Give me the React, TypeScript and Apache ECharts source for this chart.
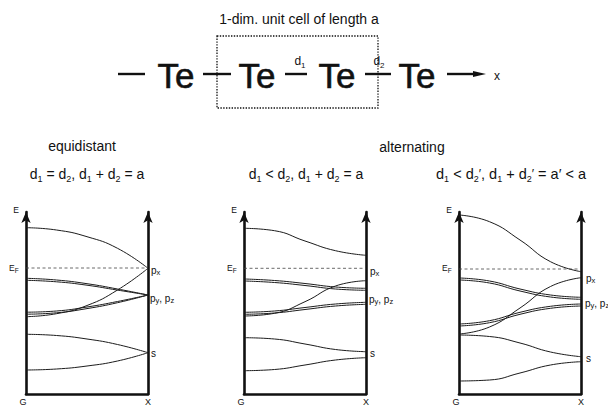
import React, { useEffect, useRef } from "react";
import * as echarts from "echarts";

// Fraction of the path from the zone centre G to the zone edge X
const kPath = [0, 0.25, 0.5, 0.75, 1];

// Energies (arbitrary units) — equidistant chain, d1 = d2
const eqTop = [166.3, 164, 157.3, 145.7, 125.7];
const eqPxLow = [77.3, 80.3, 88.5, 104, 125.7];
const eqPyzUpA = [115.7, 114, 110.3, 105, 99];
const eqPyzUpB = [113.7, 112.2, 108.8, 103.9, 99];
const eqPyzLowA = [81.8, 83, 87, 92.5, 99];
const eqPyzLowB = [79.8, 81.2, 85.4, 91.3, 99];
const eqSUp = [59.7, 58.5, 55, 49.5, 41.3];
const eqSLow = [24, 25, 28, 33, 41.3];
const eqFermi = 126;

// Alternating chain, d1 < d2, same cell length a
const alTop = [165.7, 163.3, 153, 143.3, 138.7];
const alPxLow = [78, 80.7, 92.3, 108, 113.3];
const alPyzUpA = [115, 113.5, 110.5, 107, 105.7];
const alPyzUpB = [113, 111.5, 108.5, 105, 103.7];
const alPyzLowA = [81.7, 83, 86.5, 90, 91.7];
const alPyzLowB = [79.7, 81, 84.5, 88, 89.7];
const alSUp = [56.3, 55, 50, 44.5, 42.3];
const alSLow = [23.3, 24.5, 29, 34, 36.3];
const alFermi = 125.7;

// Alternating chain with shortened cell a' < a
const shTop = [179, 172.3, 154, 132.3, 122.3];
const shPxLow = [60, 67, 86, 107.5, 116.3];
const shPyzUpA = [116, 113, 105, 99, 96.7];
const shPyzUpB = [114, 111, 103, 97, 94.7];
const shPyzLowA = [70, 73.3, 81.7, 87.7, 90];
const shPyzLowB = [68, 71.3, 79.7, 85.7, 88];
const shSUp = [59, 57.5, 51, 42, 37.3];
const shSLow = [13, 14, 21, 29, 32.3];
const shFermi = 125;

const bandSets = [
  [eqTop, eqPxLow, eqPyzUpA, eqPyzUpB, eqPyzLowA, eqPyzLowB, eqSUp, eqSLow],
  [alTop, alPxLow, alPyzUpA, alPyzUpB, alPyzLowA, alPyzLowB, alSUp, alSLow],
  [shTop, shPxLow, shPyzUpA, shPyzUpB, shPyzLowA, shPyzLowB, shSUp, shSLow],
];
const fermiLevels = [eqFermi, alFermi, shFermi];
const energyMax = 182;

// Layout of the three band-structure frames
const frameLeft = [26, 244, 459];
const frameWidth = 122;
const frameTop = 212;
const frameHeight = 182;

const INK = "#111";
const FONT = '"Liberation Sans", Arial, Helvetica, sans-serif';

function richStyles(size: number, sub: number) {
  return {
    m: { fontSize: size, fontFamily: FONT, fill: INK, lineHeight: Math.round(size * 1.3) },
    s: { fontSize: sub, fontFamily: FONT, fill: INK, verticalAlign: "bottom" },
    p: { fontSize: size - 2, fontFamily: FONT, fill: INK, verticalAlign: "middle" },
  };
}

function label(x: number, y: number, text: string, size: number, sub: number, align = "left") {
  return {
    type: "text",
    x,
    y,
    silent: true,
    style: {
      text,
      rich: richStyles(size, sub),
      align,
      textAlign: align,
      verticalAlign: "middle",
      textVerticalAlign: "middle",
      fill: INK,
    },
  };
}

function plain(x: number, y: number, text: string, size: number, align = "center") {
  return {
    type: "text",
    x,
    y,
    silent: true,
    style: {
      text,
      fontSize: size,
      fontFamily: FONT,
      fill: INK,
      align,
      textAlign: align,
      verticalAlign: "middle",
      textVerticalAlign: "middle",
    },
  };
}

function bond(x1: number, x2: number, y: number) {
  return {
    type: "line",
    silent: true,
    shape: { x1, y1: y, x2, y2: y },
    style: { stroke: INK, lineWidth: 2.4 },
  };
}

// Right-hand orbital labels per frame: [x, y of px, y of py/pz, y of s]
const orbitalLabelPos = [
  [151, 270, 298, 353],
  [370, 271, 299, 353],
  [586, 278, 303, 358],
];

function buildGraphic() {
  const g: any[] = [];
  // chain sketch
  g.push(plain(299, 19, "1-dim. unit cell of length a", 14));
  g.push({
    type: "rect",
    silent: true,
    shape: { x: 217, y: 36, width: 161, height: 72 },
    style: { fill: "none", stroke: INK, lineWidth: 1.3, lineDash: [1.4, 1.4] },
  });
  g.push(bond(118, 145, 74));
  g.push(bond(203, 231, 74));
  g.push(bond(285, 307, 74));
  g.push(bond(365, 391, 74));
  g.push(bond(447, 475, 74));
  g.push({
    type: "polygon",
    silent: true,
    shape: { points: [[473, 71], [486, 74], [473, 77]] },
    style: { fill: INK },
  });
  g.push(plain(497, 76, "x", 12));
  [176, 257, 337, 417].forEach((cx) => {
    g.push({
      type: "text",
      x: cx,
      y: 75.5,
      silent: true,
      style: {
        text: "Te",
        fontSize: 35,
        fontFamily: FONT,
        fill: INK,
        stroke: INK,
        lineWidth: 0.6,
        align: "center",
        textAlign: "center",
        verticalAlign: "middle",
        textVerticalAlign: "middle",
      },
    });
  });
  g.push(label(300, 61, "{m|d}{s|1}", 12, 8, "center"));
  g.push(label(379, 61, "{m|d}{s|2}", 12, 8, "center"));

  // headings
  g.push(plain(82, 146, "equidistant", 14));
  g.push(plain(412, 147, "alternating", 14));
  g.push(label(87, 174, "{m|d}{s|1}{m| = d}{s|2}{m|, d}{s|1}{m| + d}{s|2}{m| = a}", 14, 9, "center"));
  g.push(label(306, 174, "{m|d}{s|1}{m| < d}{s|2}{m|, d}{s|1}{m| + d}{s|2}{m| = a}", 14, 9, "center"));
  g.push(
    label(
      586,
      174,
      "{m|d}{s|1}{m| < d}{s|2}{p|′}{m|, d}{s|1}{m| + d}{s|2}{p|′}{m| = a′ < a}",
      14.5,
      9,
      "right"
    )
  );

  // frame annotations
  frameLeft.forEach((left, i) => {
    const right = left + frameWidth;
    g.push(plain(left - 10, 209.5, "E", 8.5));
    g.push(label(left - 17, 268, "{m|E}{s|F}", 8.5, 6.5, "left"));
    g.push(plain(left - 3, 402, "G", 9));
    g.push(plain(right, 402, "X", 9));
    const [lx, ypx, ypz, ys] = orbitalLabelPos[i];
    g.push(label(lx, ypx, "{m|p}{s|x}", 10, 7.5));
    g.push(label(lx - 1, ypz, "{m|p}{s|y}{m|, p}{s|z}", 10, 7.5));
    g.push(label(lx, ys, "{m|s}", 10, 7.5));
  });
  return g;
}

function buildOption() {
  const grid = frameLeft.map((left) => ({
    left,
    top: frameTop,
    width: frameWidth,
    height: frameHeight,
    containLabel: false,
  }));
  const axisLine = (withArrow: boolean) => ({
    show: true,
    onZero: false,
    symbol: withArrow ? ["none", "arrow"] : ["none", "none"],
    symbolSize: [7, 11],
    lineStyle: { color: INK, width: 2.6 },
  });
  const hidden = {
    axisTick: { show: false },
    axisLabel: { show: false },
    splitLine: { show: false },
  };
  const xAxis = frameLeft.map((_, i) => ({
    type: "value",
    gridIndex: i,
    min: 0,
    max: 1,
    position: "bottom",
    axisLine: axisLine(false),
    ...hidden,
  }));
  const yAxis: any[] = [];
  frameLeft.forEach((_, i) => {
    ["left", "right"].forEach((pos) => {
      yAxis.push({
        type: "value",
        gridIndex: i,
        min: 0,
        max: energyMax,
        position: pos,
        axisLine: axisLine(true),
        ...hidden,
      });
    });
  });

  const series: any[] = [];
  bandSets.forEach((bands, i) => {
    bands.forEach((band) => {
      series.push({
        type: "line",
        xAxisIndex: i,
        yAxisIndex: 2 * i,
        data: kPath.map((k, j) => [k, band[j]]),
        smooth: 0.5,
        symbol: "none",
        silent: true,
        lineStyle: { color: "#1c1c1c", width: 1 },
      });
    });
    series.push({
      type: "line",
      xAxisIndex: i,
      yAxisIndex: 2 * i,
      data: [
        [0, fermiLevels[i]],
        [1, fermiLevels[i]],
      ],
      symbol: "none",
      silent: true,
      lineStyle: { color: "#444", width: 0.8, type: [3, 2.5] },
    });
  });

  return {
    animation: false,
    backgroundColor: "#fff",
    grid,
    xAxis,
    yAxis,
    series,
    graphic: { elements: buildGraphic() },
  };
}

export default function App() {
  const ref = useRef<HTMLDivElement>(null);
  useEffect(() => {
    if (!ref.current) return;
    const chart = echarts.init(ref.current, undefined, { renderer: "svg" });
    chart.setOption(buildOption() as any);
    return () => chart.dispose();
  }, []);
  return (
    <div
      ref={ref}
      style={{ position: "fixed", left: 0, top: 0, width: 608, height: 407, background: "#fff" }}
    />
  );
}
